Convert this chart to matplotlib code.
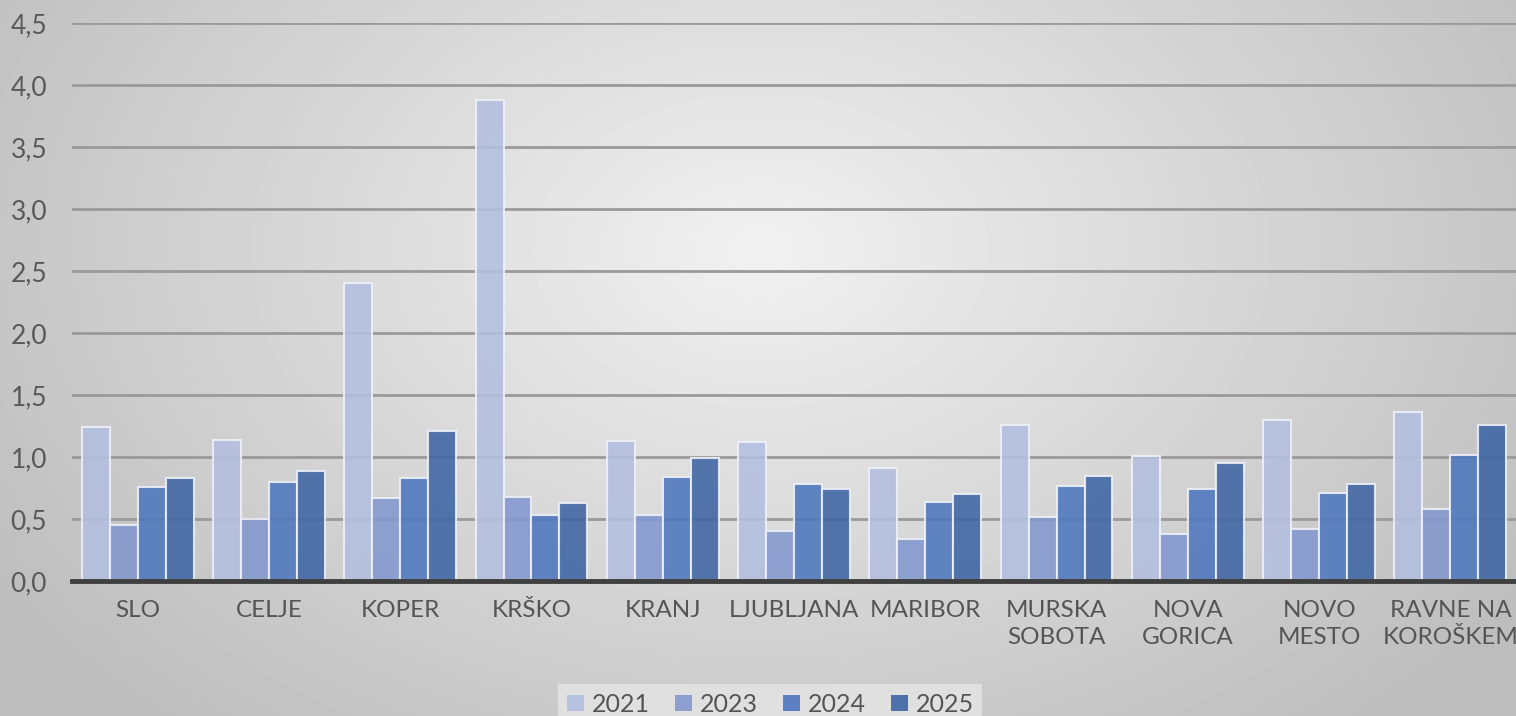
import matplotlib.pyplot as plt
import numpy as np
from matplotlib.patches import Patch

CITIES = ['SLO', 'CELJE', 'KOPER', 'KRŠKO', 'KRANJ', 'LJUBLJANA', 'MARIBOR',
          'MURSKA\nSOBOTA', 'NOVA\nGORICA', 'NOVO\nMESTO', 'RAVNE NA\nKOROŠKEM']
YEARS = ['2021', '2023', '2024', '2025']

V2021 = [1.24, 1.14, 2.40, 3.88, 1.13, 1.12, 0.91, 1.26, 1.01, 1.30, 1.36]
V2023 = [0.45, 0.50, 0.67, 0.68, 0.53, 0.40, 0.34, 0.52, 0.38, 0.42, 0.58]
V2024 = [0.76, 0.80, 0.83, 0.53, 0.84, 0.78, 0.64, 0.77, 0.74, 0.71, 1.02]
V2025 = [0.83, 0.89, 1.21, 0.63, 0.99, 0.74, 0.70, 0.85, 0.95, 0.78, 1.26]

COLORS = ['#b3bfe0', '#8398cf', '#4e76be', '#3e65a4']

plt.rcParams['font.family'] = ['Lato', 'DejaVu Sans']

fig = plt.figure(figsize=(15.16, 7.16), dpi=100)

# soft radial grey background
bg = fig.add_axes([0, 0, 1, 1], zorder=0)
yy, xx = np.mgrid[0:716, 0:1516]
r = np.sqrt(((xx - 760) / 900.0) ** 2 + ((yy - 250) / 620.0) ** 2)
shade = np.clip(0.945 - 0.2 * r, 0.74, 1)
bg.imshow(shade, cmap='gray', vmin=0, vmax=1, aspect='auto', interpolation='bilinear')
bg.axis('off')

ax = fig.add_axes([0.0475, 0.1885, 0.9525, 0.7795], zorder=1)
ax.patch.set_alpha(0)

x = np.arange(len(CITIES))
w = 0.213
series = [V2021, V2023, V2024, V2025]
for i, (vals, col) in enumerate(zip(series, COLORS)):
    ax.bar(x + (i - 1.5) * w, vals, w, color=col, alpha=0.88,
           edgecolor='#eef1f8', linewidth=1.5, zorder=3)

ax.set_xlim(-0.5, len(CITIES) - 0.5)
ax.set_ylim(0, 4.5)
ax.set_yticks(np.arange(0, 4.51, 0.5))
ax.set_yticklabels([f'{v:.1f}'.replace('.', ',') for v in np.arange(0, 4.51, 0.5)])
ax.yaxis.grid(True, color='#9a9a9a', linewidth=2, zorder=1)
ax.set_axisbelow(True)

for s in ['top', 'right', 'left']:
    ax.spines[s].set_visible(False)
ax.spines['bottom'].set_color('#3f3f3f')
ax.spines['bottom'].set_linewidth(3.5)
ax.spines['bottom'].set_zorder(4)

ax.set_xticks(x)
ax.set_xticklabels(CITIES, linespacing=1.35)
ax.tick_params(axis='x', length=0, pad=14, labelsize=17.5, labelcolor='#555555')
ax.tick_params(axis='y', length=0, pad=18, labelsize=19, labelcolor='#595959')

handles = [Patch(facecolor=c, edgecolor='none', alpha=0.9) for c in COLORS]
leg = fig.legend(handles, YEARS, loc='lower center', bbox_to_anchor=(0.508, -0.03),
                 ncol=4, frameon=True, fontsize=18, handlelength=0.7,
                 handleheight=0.6, handletextpad=0.3, columnspacing=1.0,
                 borderpad=0.35, fancybox=False)
leg.get_frame().set_facecolor('#e3e3e3')
leg.get_frame().set_edgecolor('none')
leg.get_frame().set_alpha(0.9)
for t in leg.get_texts():
    t.set_color('#555555')

fig.savefig('out.png', dpi=100)
